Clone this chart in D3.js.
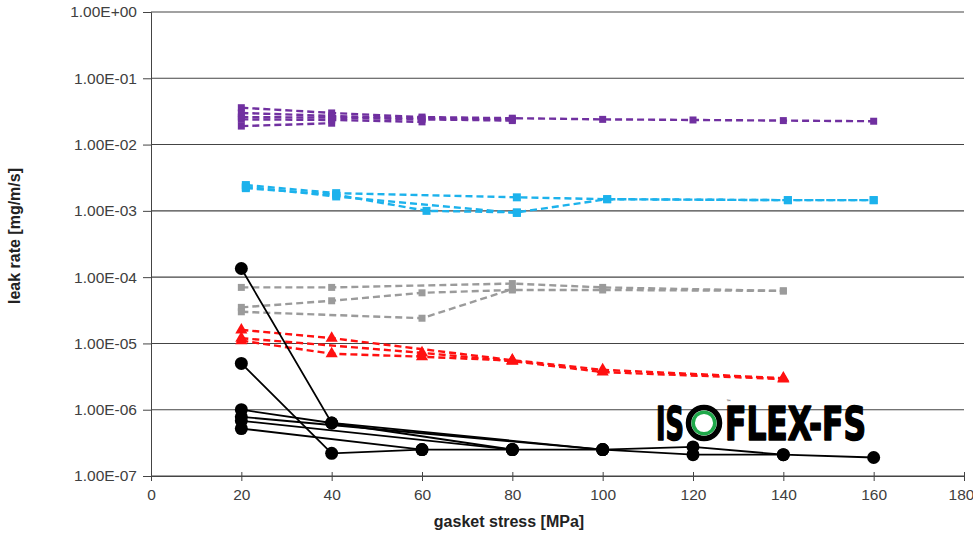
<!DOCTYPE html>
<html lang="en">
<head>
<meta charset="UTF-8">
<title>Leak rate vs gasket stress</title>
<script src="https://d3js.org/d3.v7.min.js"></script>
<style>
    body { margin: 0; background: #fff; font-family: "Liberation Sans", Arial, sans-serif; }
    .tick text { font-size: 15.5px; fill: #404040; }
    .axis-title { font-size: 16px; font-weight: bold; fill: #222; }
</style>
</head>
<body>
<svg width="973" height="535"></svg>
<script>
// ---- data: each series is a list of [stress MPa, leak rate mg/m/s]
const purpleSeries = [
    [[20, 3.6e-2], [40, 3.0e-2], [60, 2.6e-2], [80, 2.5e-2], [100, 2.4e-2], [120, 2.35e-2], [140, 2.3e-2], [160, 2.25e-2]],
    [[20, 3.0e-2], [40, 2.7e-2], [60, 2.5e-2], [80, 2.4e-2]],
    [[20, 2.6e-2], [40, 2.55e-2], [60, 2.4e-2], [80, 2.3e-2]],
    [[20, 2.4e-2], [40, 2.35e-2], [60, 2.2e-2]],
    [[20, 1.9e-2], [40, 2.1e-2]]
];
const cyanSeries = [
    [[21, 2.45e-3], [41, 1.85e-3], [81, 1.6e-3], [101, 1.5e-3], [141, 1.45e-3], [160, 1.45e-3]],
    [[21, 2.2e-3], [41, 1.75e-3], [61, 1.0e-3], [81, 0.95e-3], [101, 1.5e-3], [141, 1.45e-3], [160, 1.45e-3]],
    [[21, 2.3e-3], [41, 1.65e-3], [81, 0.93e-3]]
];
const graySeries = [
    [[20, 7.0e-5], [40, 7.0e-5], [80, 8.0e-5], [100, 7.0e-5], [140, 6.2e-5]],
    [[20, 3.5e-5], [40, 4.4e-5], [60, 5.8e-5], [80, 6.4e-5], [100, 6.4e-5], [140, 6.2e-5]],
    [[20, 3.0e-5], [60, 2.4e-5], [80, 6.6e-5]]
];
const redSeries = [
    [[20, 1.6e-5], [40, 1.2e-5], [80, 5.6e-6], [100, 4.0e-6], [140, 3.0e-6]],
    [[20, 1.2e-5], [60, 7.2e-6], [80, 5.4e-6], [100, 3.7e-6], [140, 2.9e-6]],
    [[20, 1.1e-5], [40, 7.0e-6], [60, 6.3e-6], [80, 5.5e-6]]
];
const blackSeries = [
    [[20, 1.35e-4], [40, 6.3e-7], [100, 2.5e-7]],
    [[20, 5.0e-6], [40, 2.2e-7], [60, 2.5e-7], [80, 2.5e-7], [100, 2.5e-7], [120, 2.1e-7], [140, 2.1e-7], [160, 1.9e-7]],
    [[20, 1.0e-6], [40, 6.3e-7], [80, 2.5e-7]],
    [[20, 7.8e-7], [100, 2.5e-7], [120, 2.75e-7], [140, 2.1e-7]],
    [[20, 6.8e-7], [80, 2.5e-7]],
    [[20, 5.2e-7], [60, 2.5e-7]]
];
const xTicks = [0, 20, 40, 60, 80, 100, 120, 140, 160, 180];
const yTicks = [1e-7, 1e-6, 1e-5, 1e-4, 1e-3, 1e-2, 1e-1, 1];

// ---- chart
const svg = d3.select("svg");
const plotLeft = 151, plotRight = 964, plotTop = 12, plotBottom = 476;

const x = d3.scaleLinear().domain([0, 180]).range([plotLeft, plotRight]);
const y = d3.scaleLog().domain([1e-7, 1]).range([plotBottom, plotTop]);

const fmt = d => {
    const e = Math.round(Math.log10(d));
    return "1.00E" + (e < 0 ? "-" : "+") + String(Math.abs(e)).padStart(2, "0");
};

// gridlines
svg.append("g")
    .selectAll("line")
    .data(yTicks)
    .enter().append("line")
    .attr("x1", plotLeft).attr("x2", plotRight)
    .attr("y1", d => y(d)).attr("y2", d => y(d))
    .attr("stroke", "#444").attr("stroke-width", 1.1);

// y axis
const yAxis = svg.append("g")
    .attr("transform", `translate(${plotLeft},0)`)
    .call(d3.axisLeft(y).tickValues(yTicks).tickFormat(fmt).tickSize(8).tickPadding(6));
yAxis.select(".domain").attr("stroke", "#444");
yAxis.selectAll(".tick line").attr("stroke", "#444");

// x axis (ticks cross the axis line)
const xAxis = svg.append("g")
    .attr("transform", `translate(0,${plotBottom})`)
    .call(d3.axisBottom(x).tickValues(xTicks).tickSize(5).tickPadding(8));
xAxis.select(".domain").attr("stroke", "#444");
xAxis.selectAll(".tick line").attr("stroke", "#444").attr("y1", -4);
xAxis.selectAll(".tick text").filter(d => d === 180).attr("dx", -3);

svg.append("text")
    .attr("class", "axis-title")
    .attr("x", 509).attr("y", 527)
    .attr("text-anchor", "middle")
    .text("gasket stress [MPa]");

svg.append("text")
    .attr("class", "axis-title")
    .attr("transform", "translate(20,236) rotate(-90)")
    .attr("text-anchor", "middle")
    .text("leak rate [mg/m/s]");

const line = d3.line().x(d => x(d[0])).y(d => y(d[1]));

function drawGroup(series, color, dashed, marker, size) {
    const g = svg.append("g");
    g.selectAll("path.ln")
        .data(series)
        .enter().append("path")
        .attr("class", "ln")
        .attr("d", line)
        .attr("fill", "none")
        .attr("stroke", color)
        .attr("stroke-width", dashed ? 2.4 : 1.8)
        .attr("stroke-dasharray", dashed ? "7,4" : null);
    const pts = series.flat();
    if (marker === "circle") {
        g.selectAll("circle")
            .data(pts)
            .enter().append("circle")
            .attr("cx", d => x(d[0])).attr("cy", d => y(d[1]))
            .attr("r", size / 2)
            .attr("fill", color);
    } else {
        const sym = d3.symbol().type(marker === "triangle" ? d3.symbolTriangle : d3.symbolSquare).size(size * size);
        g.selectAll("path.mk")
            .data(pts)
            .enter().append("path")
            .attr("class", "mk")
            .attr("d", sym)
            .attr("transform", d => `translate(${x(d[0])},${y(d[1])})`)
            .attr("fill", color);
    }
}

drawGroup(purpleSeries, "#7030a0", true, "square", 7);
drawGroup(cyanSeries, "#1cb2ec", true, "square", 8);
drawGroup(graySeries, "#9b9b9b", true, "square", 7);
drawGroup(redSeries, "#ff1010", true, "triangle", 8);
drawGroup(blackSeries, "#000", false, "circle", 13);

// ISOFLEX-FS logo
const logo = svg.append("g").attr("font-family", "'DejaVu Sans Condensed', 'DejaVu Sans', sans-serif")
    .attr("font-weight", "bold").attr("font-size", 46).attr("fill", "#000")
    .attr("stroke", "#000").attr("stroke-width", 1.6).attr("stroke-linejoin", "round");
logo.append("text").attr("x", 656).attr("y", 440).attr("textLength", 28).attr("lengthAdjust", "spacingAndGlyphs").text("IS");
logo.append("circle").attr("cx", 704).attr("cy", 423).attr("r", 15.5)
    .attr("fill", "#fff").attr("stroke", "#000").attr("stroke-width", 5.5);
logo.append("circle").attr("cx", 704).attr("cy", 423).attr("r", 10.8)
    .attr("fill", "#fff").attr("stroke", "#1fa84a").attr("stroke-width", 3.5);
logo.append("text").attr("x", 725).attr("y", 440).attr("textLength", 141).attr("lengthAdjust", "spacingAndGlyphs").text("FLEX-FS");
logo.append("text").attr("x", 726).attr("y", 404).attr("font-size", 6).attr("font-weight", "normal").attr("stroke", "none").text("™");
</script>
</body>
</html>
